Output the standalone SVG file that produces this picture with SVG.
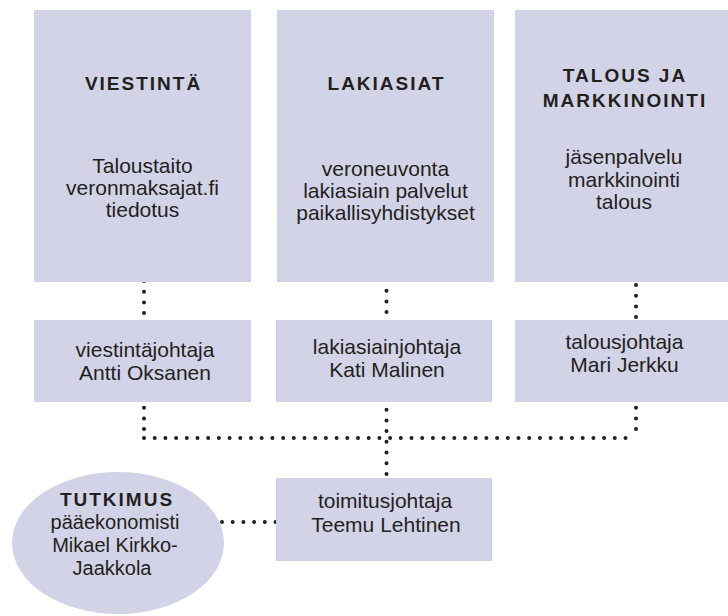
<svg xmlns="http://www.w3.org/2000/svg" width="728" height="616" viewBox="0 0 728 616">
<style>
.box{fill:#d3d3e7}
.t{font-family:"Liberation Sans",Arial,sans-serif;font-size:21px;fill:#231f20;text-anchor:middle}
.e{font-size:20px}
.h{font-family:"Liberation Sans",Arial,sans-serif;font-size:19px;font-weight:bold;letter-spacing:2px;fill:#231f20;text-anchor:middle}
.dot{fill:none;stroke:#231f20;stroke-width:4;stroke-linecap:round;stroke-dasharray:0 10.7}
</style>
<rect width="728" height="616" fill="#ffffff"/>
<g id="connectors">
<path class="dot" d="M144 281V320"/>
<path class="dot" d="M386.5 280V320"/>
<path class="dot" d="M636 285V320"/>
<path class="dot" d="M144 397V438"/>
<path class="dot" d="M636 397V438"/>
<path class="dot" d="M144 438H636"/>
<path class="dot" d="M386.5 399V478"/>
<path class="dot" d="M222 522H276"/>
</g>
<g id="viestinta">
<rect class="box" x="34" y="10" width="217" height="272"/>
<text class="h" x="143.5" y="90">VIESTINTÄ</text>
<text class="t" x="142.5" y="173">Taloustaito</text>
<text class="t" x="142.5" y="195">veronmaksajat.fi</text>
<text class="t" x="142.5" y="217">tiedotus</text>
</g>
<g id="lakiasiat">
<rect class="box" x="277" y="10" width="217" height="272"/>
<text class="h" x="386.5" y="90">LAKIASIAT</text>
<text class="t" x="385.5" y="176">veroneuvonta</text>
<text class="t" x="385.5" y="198">lakiasiain palvelut</text>
<text class="t" x="385.5" y="220">paikallisyhdistykset</text>
</g>
<g id="talous">
<rect class="box" x="515" y="10" width="217" height="272"/>
<text class="h" x="625" y="82">TALOUS JA</text>
<text class="h" x="625" y="107">MARKKINOINTI</text>
<text class="t" x="624" y="164">jäsenpalvelu</text>
<text class="t" x="624" y="187">markkinointi</text>
<text class="t" x="624" y="209">talous</text>
</g>
<g id="viestintajohtaja">
<rect class="box" x="34" y="320" width="217" height="82"/>
<text class="t" x="145" y="357">viestintäjohtaja</text>
<text class="t" x="145" y="380">Antti Oksanen</text>
</g>
<g id="lakiasiainjohtaja">
<rect class="box" x="276" y="320" width="216" height="82"/>
<text class="t" x="387" y="354">lakiasiainjohtaja</text>
<text class="t" x="387" y="377">Kati Malinen</text>
</g>
<g id="talousjohtaja">
<rect class="box" x="515" y="320" width="217" height="82"/>
<text class="t" x="624.5" y="349">talousjohtaja</text>
<text class="t" x="624.5" y="372">Mari Jerkku</text>
</g>
<g id="toimitusjohtaja">
<rect class="box" x="276" y="478" width="216" height="83"/>
<text class="t" x="385" y="508">toimitusjohtaja</text>
<text class="t" x="386" y="532">Teemu Lehtinen</text>
</g>
<g id="tutkimus">
<ellipse class="box" cx="118" cy="543" rx="106" ry="71"/>
<text class="h" x="117" y="506">TUTKIMUS</text>
<text class="t e" x="115" y="529">pääekonomisti</text>
<text class="t e" x="115" y="552">Mikael Kirkko-</text>
<text class="t e" x="112" y="575">Jaakkola</text>
</g>
</svg>
